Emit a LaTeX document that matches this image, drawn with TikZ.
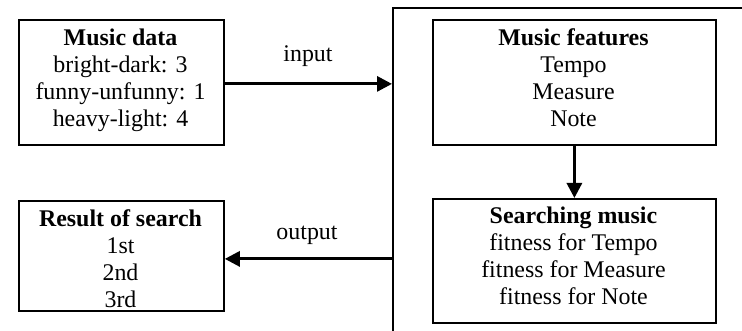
\documentclass[tikz,border=0pt]{standalone}
\usepackage{fontspec}
\setmainfont{Liberation Serif}
\usetikzlibrary{arrows.meta}
\begin{document}
\begin{tikzpicture}[x=1pt,y=-1pt,
  box/.style={draw,line width=1.8pt,inner sep=0pt,anchor=north west},
  txt/.style={align=center,font=\fontsize{23.9}{27.3}\selectfont,inner sep=0pt,anchor=base},
  arr/.style={line width=3pt,-{Triangle[length=15pt,width=15pt]}}]
\useasboundingbox (0,0) rectangle (742,331);
\node[box,minimum width=205pt,minimum height=125pt] (md) at (18,19) {};
\node[box,minimum width=205pt,minimum height=110pt] (res) at (18,200) {};
\node[box,minimum width=283pt,minimum height=125pt] (feat) at (432,19) {};
\node[box,minimum width=283pt,minimum height=124pt] (srch) at (432,198) {};
\node[draw,line width=1.6pt,inner sep=0pt,anchor=north west,minimum width=400pt,minimum height=400pt] (sys) at (392,7) {};
\node[txt] (mdt) at (120.5,127) {\textbf{Music data}\\bright-dark: 3\\funny-unfunny: 1\\heavy-light: 4};
\node[txt] (rest) at (120.5,308) {\textbf{Result of search}\\1st\\2nd\\3rd};
\node[txt] (featt) at (573.5,127) {\textbf{Music features}\\Tempo\\Measure\\Note};
\node[txt] (srcht) at (573.5,305) {\textbf{Searching music}\\fitness for Tempo\\fitness for Measure\\fitness for Note};
\coordinate (inA) at ([yshift=-1.5pt]md.east);
\coordinate (outA) at ([yshift=-3pt]res.east);
\draw[arr] (inA) -- (inA -| sys.west);
\draw[arr] (outA -| sys.west) -- (outA);
\draw[arr] (feat.south) -- (srch.north);
\node[txt] (inl) at (308,62) {input};
\node[txt] (outl) at (307,240) {output};
\end{tikzpicture}
\end{document}
